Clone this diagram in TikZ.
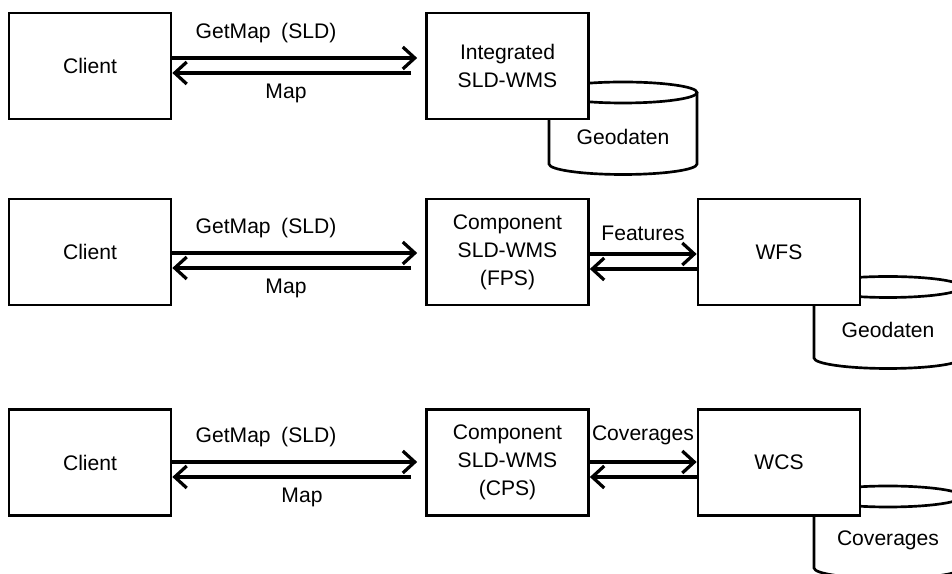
\documentclass[tikz,border=0pt]{standalone}
\usepackage{fontspec}
\setmainfont{Liberation Sans}
\usepackage{tikz}
\usetikzlibrary{arrows.meta, calc}

\tikzset{
	box/.style={draw, line width=1.9pt, fill=white, minimum width=4.05cm, minimum height=2.65cm, align=center, inner sep=0pt},
	lbl/.style={inner sep=0pt},
	link/.style={line width=2.3pt, -{Straight Barb[length=3mm, width=5.5mm]}},
	db/.style={line width=1.9pt, fill=white},
}

\begin{document}
\begin{tikzpicture}[x=0.25mm, y=0.25mm, font=\fontsize{15}{20}\selectfont]
	
	\useasboundingbox (0,0) rectangle (952,574);
	\clip (0,0) rectangle (952,574);
	
	%// databases first, the boxes cover them
	\foreach \n/\cx/\yt/\yb/\ty/\txt in {geo1/623/481.5/410/437/Geodaten, geo2/888/287/216/244/Geodaten, cov/888/77.5/6/34/Coverages}
	{
	\draw[db] (\cx-74,\yt) -- (\cx-74,\yb) arc (180:360:74 and 10.5) -- (\cx+74,\yt);
	\draw[db] (\cx,\yt) ellipse (74 and 10.5);
	\node[lbl] (\n) at (\cx,\ty) {\txt};
	}
	
	%// servers
	\node[box] (ws1) at (507.5,508) {Integrated\\SLD-WMS};
	\node[box] (ws2) at (507.5,322) {Component\\SLD-WMS\\(FPS)};
	\node[box] (ws3) at (507.5,111.5) {Component\\SLD-WMS\\(CPS)};
	\node[box] (wfs) at (779,322) {WFS};
	\node[box] (wcs) at (779,111.5) {WCS};
	
	%// clients and their requests
	\foreach \r/\y/\ya/\yb/\xm in {1/508/516/501/286, 2/322/321/306/286, 3/111.5/112/97/302}
	{
	\node[box] (cl\r) at (90,\y) {Client};
	\draw[link, shorten >=2mm] (cl\r.east |- 0,\ya) -- (ws\r.west |- 0,\ya);
	\draw[link, shorten <=3.5mm] (ws\r.west |- 0,\yb) -- (cl\r.east |- 0,\yb);
	\node[lbl] (get\r) at (266,\ya+25) {GetMap\enspace(SLD)};
	\node[lbl] (map\r) at (\xm,\yb-20) {Map};
	}
	
	%// component servers to WFS / WCS
	\draw[link] (ws2.east |- 0,320) -- (wfs.west |- 0,320);
	\draw[link] (wfs.west |- 0,305) -- (ws2.east |- 0,305);
	\node[lbl] (feat) at (643,341) {Features};
	
	\draw[link] (ws3.east |- 0,112) -- (wcs.west |- 0,112);
	\draw[link] (wcs.west |- 0,97) -- (ws3.east |- 0,97);
	\node[lbl] (covs) at (643,139) {Coverages};
	
\end{tikzpicture}
\end{document}
